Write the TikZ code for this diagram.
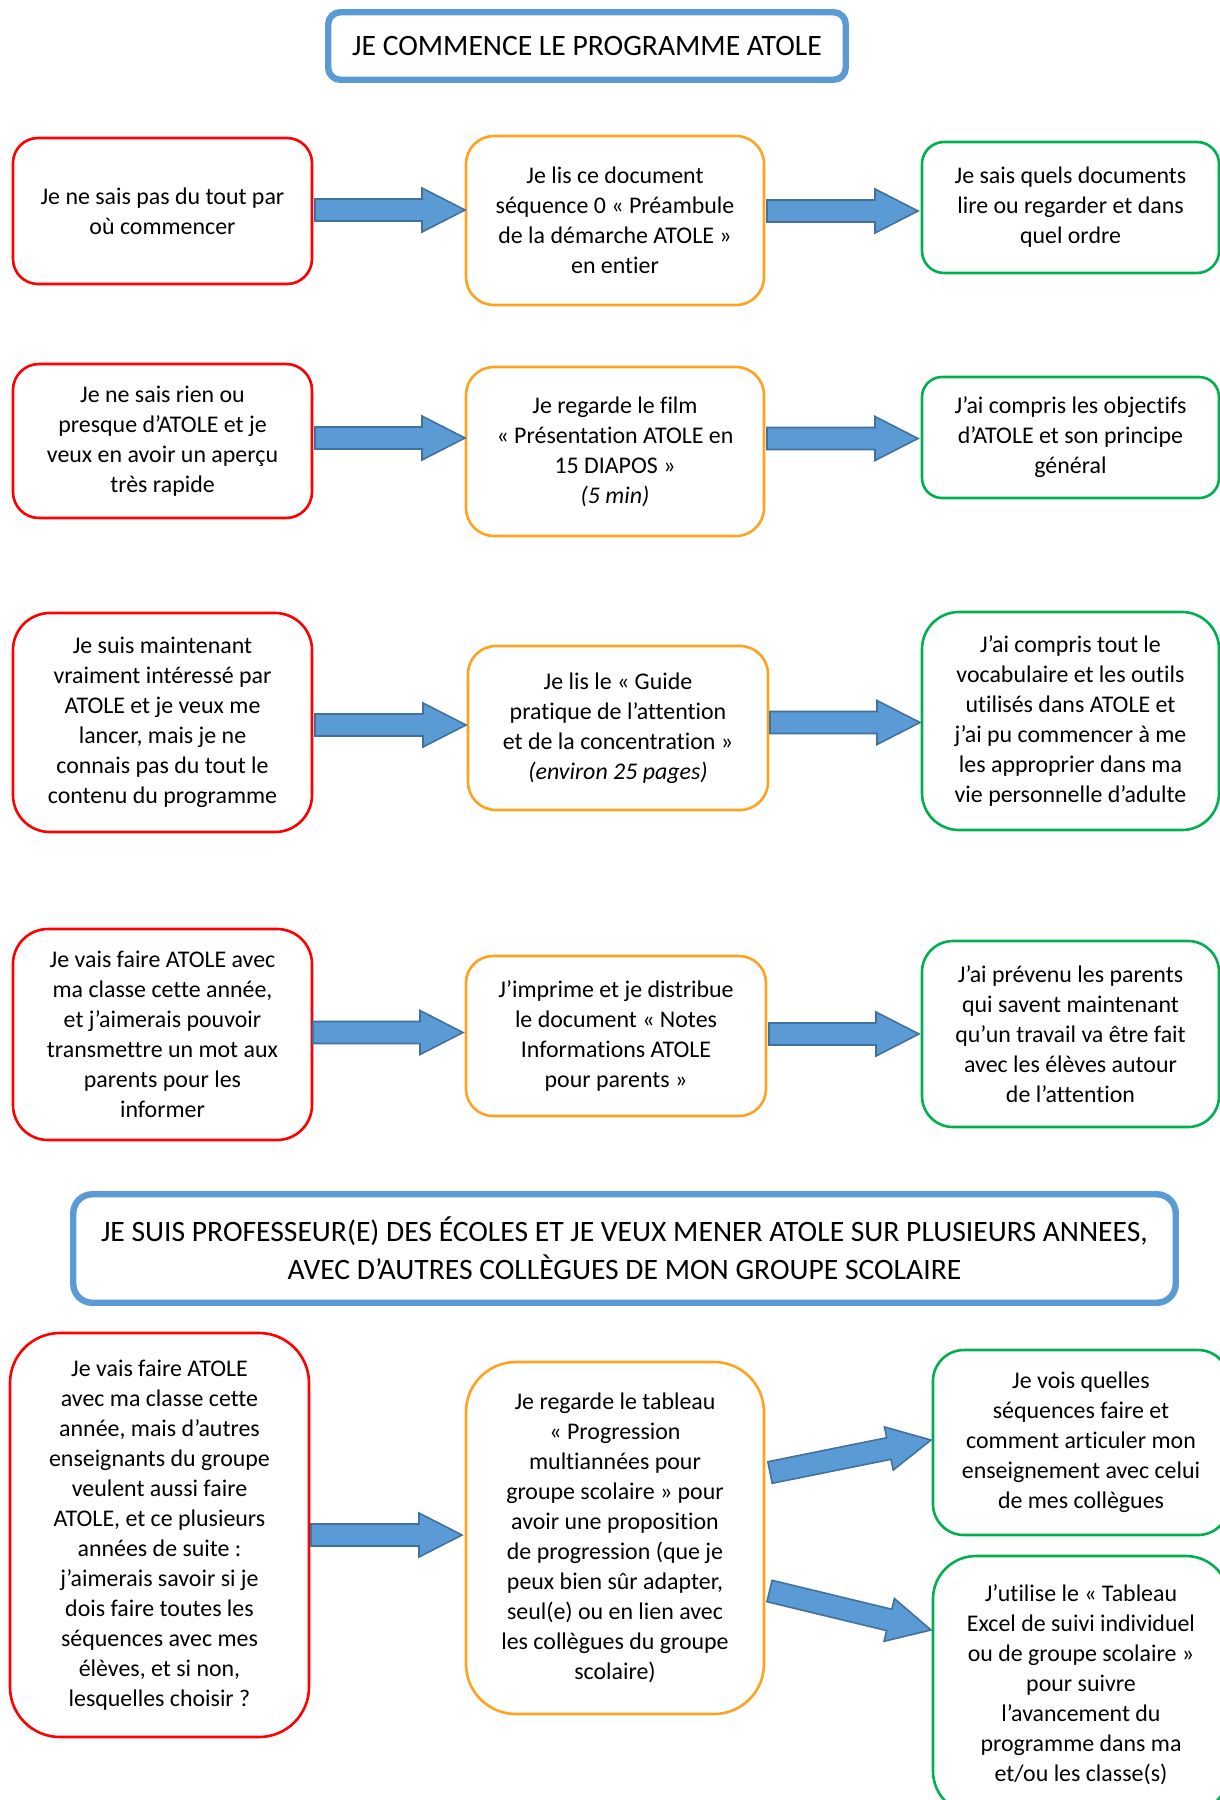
\documentclass[tikz,border=0pt]{standalone}
\usepackage{fontspec}
\setmainfont[Ligatures=NoCommon]{Carlito}
\usetikzlibrary{calc}
\definecolor{rd}{HTML}{FF0000}
\definecolor{og}{HTML}{FFA21F}
\definecolor{gn}{HTML}{00B050}
\definecolor{tb}{HTML}{5B9BD5}
\definecolor{ab}{HTML}{5B9BD5}
\definecolor{abd}{HTML}{41719C}
\newcommand\myBody{\fontsize{11.95}{15}\selectfont}
\newcommand\myTitle{\fontsize{14.8}{19}\selectfont}
\tikzset{
  basebox/.style={draw, line width=1.3pt, fill=white, align=center, inner sep=0pt, font=\myBody},
  rbox/.style={basebox, draw=rd},
  obox/.style={basebox, draw=og},
  gbox/.style={basebox, draw=gn},
  tbox/.style={draw=tb, line width=3.2pt, fill=white, align=center, inner sep=0pt, font=\myTitle},
  barrow/.style={fill=ab, draw=abd, line width=0.8pt, line join=miter}
}
\newcommand\blockarrow[3]{%
  \coordinate (#1h) at ($(#3)!21.5pt!(#2)$);
  \draw[barrow] ($(#2)!5.5pt!90:(#3)$) -- ($(#1h)!5.5pt!90:(#3)$) -- ($(#1h)!11pt!90:(#3)$) -- (#3)
    -- ($(#1h)!11pt!-90:(#3)$) -- ($(#1h)!5.5pt!-90:(#3)$) -- ($(#2)!5.5pt!-90:(#3)$) -- cycle;
}
\begin{document}
\begin{tikzpicture}[x=0.5pt,y=-0.5pt]
\useasboundingbox (0,0) rectangle (1220,1800);
\clip (0,0) rectangle (1220,1800);
\fill[white] (0,0) rectangle (1220,1800);

% titles
\node[tbox, minimum width=258.75pt, minimum height=33.75pt, rounded corners=6pt] (T1) at (587,46) {JE COMMENCE LE PROGRAMME ATOLE};
\node[tbox, minimum width=551.25pt, minimum height=54.25pt, rounded corners=9.5pt] (T2) at (624.5,1248.5)
  {JE SUIS PROFESSEUR(E) DES ÉCOLES ET JE VEUX MENER ATOLE SUR PLUSIEURS ANNEES,\\AVEC D’AUTRES COLLÈGUES DE MON GROUPE SCOLAIRE};

% row 1
\node[rbox, minimum width=149.5pt, minimum height=73pt, rounded corners=12.5pt] (R1) at (162.5,211)
  {Je ne sais pas du tout par\\où commencer};
\node[obox, minimum width=149pt, minimum height=84.5pt, rounded corners=14pt] (O1) at (615,220.5)
  {Je lis ce document\\séquence 0 « Préambule\\de la démarche ATOLE »\\en entier};
\node[gbox, minimum width=148.5pt, minimum height=65.5pt, rounded corners=11pt] (G1) at (1070.5,207.5)
  {Je sais quels documents\\lire ou regarder et dans\\quel ordre};

% row 2
\node[rbox, minimum width=149.5pt, minimum height=77pt, rounded corners=13pt] (R2) at (162.5,441)
  {Je ne sais rien ou\\presque d’ATOLE et je\\veux en avoir un aperçu\\très rapide};
\node[obox, minimum width=149pt, minimum height=84.5pt, rounded corners=14pt] (O2) at (615,451.5)
  {Je regarde le film\\« Présentation ATOLE en\\15 DIAPOS »\\\textit{(5 min)}};
\node[gbox, minimum width=148.5pt, minimum height=60.5pt, rounded corners=10pt] (G2) at (1070.5,437.5)
  {J’ai compris les objectifs\\d’ATOLE et son principe\\général};

% row 3
\node[rbox, minimum width=149.5pt, minimum height=109.5pt, rounded corners=18.5pt] (R3) at (162.5,722.5)
  {Je suis maintenant\\vraiment intéressé par\\ATOLE et je veux me\\lancer, mais je ne\\connais pas du tout le\\contenu du programme};
\node[obox, minimum width=150pt, minimum height=82pt, rounded corners=14pt] (O3) at (618,728)
  {Je lis le « Guide\\pratique de l’attention\\et de la concentration »\\\textit{(environ 25 pages)}};
\node[gbox, minimum width=148.5pt, minimum height=109pt, rounded corners=18.5pt] (G3) at (1070.5,721)
  {J’ai compris tout le\\vocabulaire et les outils\\utilisés dans ATOLE et\\j’ai pu commencer à me\\les approprier dans ma\\vie personnelle d’adulte};

% row 4
\node[rbox, minimum width=149.5pt, minimum height=105.5pt, rounded corners=17.5pt] (R4) at (162.5,1034.5)
  {Je vais faire ATOLE avec\\ma classe cette année,\\et j’aimerais pouvoir\\transmettre un mot aux\\parents pour les\\informer};
\node[obox, minimum width=150pt, minimum height=80pt, rounded corners=13.5pt] (O4) at (616,1036)
  {J’imprime et je distribue\\le document « Notes\\Informations ATOLE\\pour parents »};
\node[gbox, minimum width=148.5pt, minimum height=93pt, rounded corners=15.5pt] (G4) at (1070.5,1034)
  {J’ai prévenu les parents\\qui savent maintenant\\qu’un travail va être fait\\avec les élèves autour\\de l’attention};

% row 5
\node[rbox, minimum width=149.5pt, minimum height=202pt, rounded corners=25pt] (R5) at (159.5,1535)
  {Je vais faire ATOLE\\avec ma classe cette\\année, mais d’autres\\enseignants du groupe\\veulent aussi faire\\ATOLE, et ce plusieurs\\années de suite :\\j’aimerais savoir si je\\dois faire toutes les\\séquences avec mes\\élèves, et si non,\\lesquelles choisir ?};
\node[obox, minimum width=149pt, minimum height=176pt, rounded corners=25pt] (O5) at (615,1538)
  {Je regarde le tableau\\« Progression\\multiannées pour\\groupe scolaire » pour\\avoir une proposition\\de progression (que je\\peux bien sûr adapter,\\seul(e) ou en lien avec\\les collègues du groupe\\scolaire)};
\node[gbox, minimum width=148pt, minimum height=92.5pt, rounded corners=15.5pt] (G5) at (1081,1442.5)
  {Je vois quelles\\séquences faire et\\comment articuler mon\\enseignement avec celui\\de mes collègues};
\node[gbox, minimum width=148pt, minimum height=129pt, rounded corners=21.5pt] (G6) at (1081,1685)
  {J’utilise le « Tableau\\Excel de suivi individuel\\ou de groupe scolaire »\\pour suivre\\l’avancement du\\programme dans ma\\et/ou les classe(s)};

% arrow end points
\coordinate (a1s) at (315,210);   \coordinate (a1e) at (465,210);
\coordinate (a2s) at (767,211);   \coordinate (a2e) at (918,211);
\coordinate (a3s) at (315,438);   \coordinate (a3e) at (465,438);
\coordinate (a4s) at (767,438.5); \coordinate (a4e) at (918,438.5);
\coordinate (a5s) at (315,725);   \coordinate (a5e) at (466,725);
\coordinate (a6s) at (770,722.5); \coordinate (a6e) at (920,722.5);
\coordinate (a7s) at (313,1032.5);\coordinate (a7e) at (463,1032.5);
\coordinate (a8s) at (769,1034);  \coordinate (a8e) at (919,1034);
\coordinate (a9s) at (311,1535);  \coordinate (a9e) at (462,1535);
\coordinate (a10s) at (770,1472.5); \coordinate (a10e) at (931,1440);
\coordinate (a11s) at (769.5,1591); \coordinate (a11e) at (931,1630);

\blockarrow{A1}{a1s}{a1e}
\blockarrow{A2}{a2s}{a2e}
\blockarrow{A3}{a3s}{a3e}
\blockarrow{A4}{a4s}{a4e}
\blockarrow{A5}{a5s}{a5e}
\blockarrow{A6}{a6s}{a6e}
\blockarrow{A7}{a7s}{a7e}
\blockarrow{A8}{a8s}{a8e}
\blockarrow{A9}{a9s}{a9e}
\blockarrow{A10}{a10s}{a10e}
\blockarrow{A11}{a11s}{a11e}
\end{tikzpicture}
\end{document}
